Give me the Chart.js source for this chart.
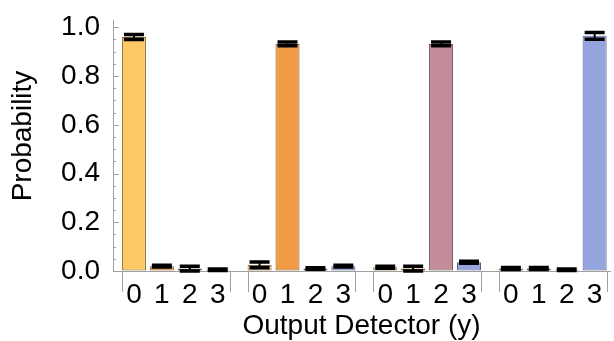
<!DOCTYPE html>
<html>
<head>
<meta charset="utf-8">
<script src="https://cdn.jsdelivr.net/npm/chart.js@4.4.1/dist/chart.umd.min.js"></script>
<style>
  html, body { margin: 0; padding: 0; background: #fff; }
  #c { display: block; }
</style>
</head>
<body>
<canvas id="c" width="614" height="341"></canvas>
<script>
// output detector labels, repeated under each input group
var detectors = ["0", "1", "2", "3"];
// probability of each output detector, one array per input
var input0 = [0.960, 0.020, 0.010, 0.005];
var input1 = [0.025, 0.932, 0.010, 0.020];
var input2 = [0.015, 0.010, 0.932, 0.036];
var input3 = [0.010, 0.010, 0.005, 0.965];
// error bar half-widths
var err0 = [0.010, 0.004, 0.010, 0.003];
var err1 = [0.012, 0.008, 0.003, 0.004];
var err2 = [0.004, 0.010, 0.008, 0.004];
var err3 = [0.004, 0.004, 0.003, 0.014];
var yTicks = [0, 0.2, 0.4, 0.6, 0.8, 1.0];

var fills = ["#FCC965", "#F09B45", "#C38C99", "#94A4DC"];
var edges = ["#85693a", "#84552a", "#6a4e56", "#545e86"];

var groups = [input0, input1, input2, input3];
var errs = [err0, err1, err2, err3];
var pts = [], errFlat = [], colorIdx = [], tickPos = [];
groups.forEach(function (vals, g) {
  vals.forEach(function (v, i) {
    var x = g * 4.5 + i;
    pts.push({ x: x, y: v });
    errFlat.push(errs[g][i]);
    colorIdx.push(i);
    tickPos.push(x);
  });
});

var font = "'Liberation Sans', Arial, Helvetica, sans-serif";
var axisGray = "#a0a0a0";

var extras = {
  id: "extras",
  afterDatasetsDraw: function (chart) {
    var c = chart.ctx, ys = chart.scales.y, xs = chart.scales.x;
    var area = chart.chartArea;
    var meta = chart.getDatasetMeta(0);
    c.save();
    // error bars
    c.strokeStyle = "#000";
    meta.data.forEach(function (el, k) {
      var v = pts[k].y, e = errFlat[k];
      var top = ys.getPixelForValue(v + e);
      var bot = ys.getPixelForValue(Math.max(0, v - e));
      c.lineWidth = 2;
      c.beginPath(); c.moveTo(el.x, top); c.lineTo(el.x, bot); c.stroke();
      c.lineWidth = 3.5;
      c.beginPath();
      c.moveTo(el.x - 10, top); c.lineTo(el.x + 10, top);
      c.moveTo(el.x - 10, bot); c.lineTo(el.x + 10, bot);
      c.stroke();
    });
    // minor/major ticks on the y axis, drawn inward
    c.strokeStyle = axisGray;
    c.lineWidth = 1;
    for (var t = 0; t <= 20; t++) {
      var yy = Math.round(ys.getPixelForValue(t * 0.05)) + 0.5;
      var len = (t % 4 === 0) ? 6 : 3;
      c.beginPath(); c.moveTo(area.left, yy); c.lineTo(area.left + len, yy); c.stroke();
    }
    // group brackets under the x axis
    var half = meta.data[0].width / 2;
    for (var g = 0; g < 4; g++) {
      var xl = Math.round(xs.getPixelForValue(g * 4.5) - half) + 0.5;
      var xr = Math.round(xs.getPixelForValue(g * 4.5 + 3) + half) + 0.5;
      c.beginPath();
      c.moveTo(xl, area.bottom); c.lineTo(xl, area.bottom + 21);
      c.moveTo(xr, area.bottom); c.lineTo(xr, area.bottom + 21);
      c.stroke();
    }
    // y axis title, centred like the reference
    c.fillStyle = "#000";
    c.font = "28px " + font;
    c.textAlign = "center";
    c.textBaseline = "middle";
    c.translate(23, 136);
    c.rotate(-Math.PI / 2);
    c.fillText("Probability", 0, 0);
    c.restore();
  }
};

new Chart(document.getElementById("c"), {
  type: "bar",
  data: {
    datasets: [{
      data: pts,
      backgroundColor: function (ctx) { return fills[colorIdx[ctx.dataIndex]]; },
      borderColor: function (ctx) { return edges[colorIdx[ctx.dataIndex]]; },
      borderWidth: 1,
      borderSkipped: false,
      barPercentage: 0.86,
      categoryPercentage: 1
    }]
  },
  options: {
    responsive: false,
    animation: false,
    layout: { padding: { top: 20, right: 4, bottom: 0, left: 0 } },
    plugins: { legend: { display: false }, tooltip: { enabled: false } },
    scales: {
      x: {
        type: "linear",
        offset: false,
        min: -0.75,
        max: 17.05,
        afterBuildTicks: function (s) { s.ticks = tickPos.map(function (v) { return { value: v }; }); },
        ticks: {
          autoSkip: false,
          maxRotation: 0,
          padding: 7,
          color: "#000",
          font: { family: font, size: 28 },
          callback: function (v, i) { return detectors[i % 4]; }
        },
        grid: { display: true, drawOnChartArea: false, drawTicks: false },
        border: { display: true, color: axisGray, width: 1 },
        title: {
          display: true,
          text: "Output Detector (y)",
          color: "#000",
          font: { family: font, size: 28, lineHeight: 1.05 },
          padding: { top: 0, bottom: 0 }
        },
        afterFit: function (s) { s.height = 70; s.paddingLeft = 0; s.paddingRight = 0; }
      },
      y: {
        min: 0,
        max: 1.03,
        afterBuildTicks: function (s) { s.ticks = yTicks.map(function (v) { return { value: v }; }); },
        ticks: {
          padding: 13,
          color: "#000",
          font: { family: font, size: 28 },
          callback: function (v) { return v.toFixed(1); }
        },
        grid: { display: true, drawOnChartArea: false, drawTicks: false },
        border: { display: true, color: axisGray, width: 1 },
        afterFit: function (s) { s.width = 113; s.paddingTop = 0; s.paddingBottom = 0; }
      }
    }
  },
  plugins: [extras]
});
</script>
</body>
</html>
